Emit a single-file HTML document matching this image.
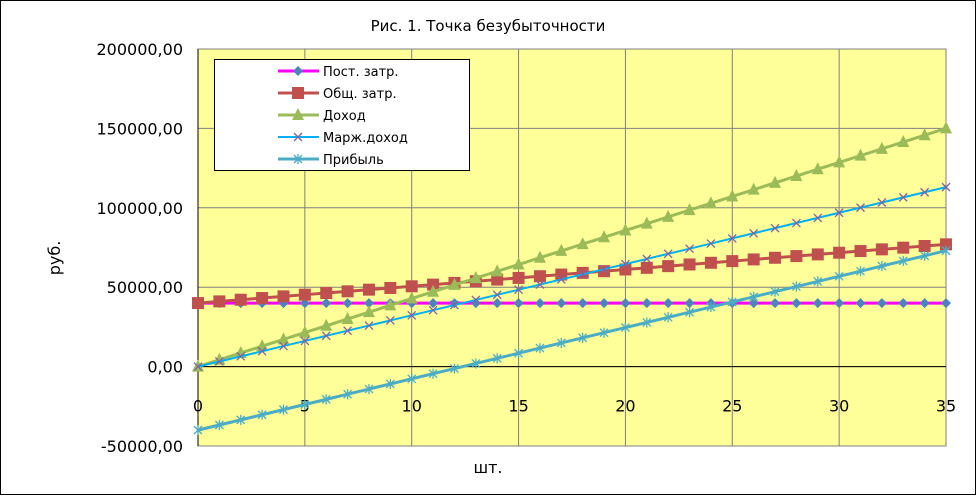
<!DOCTYPE html>
<html><head><meta charset="utf-8"><style>
body{margin:0;background:#fff}
svg text{font-family:"DejaVu Sans","Liberation Sans",sans-serif}
</style></head><body>
<svg id="c" width="976" height="495" xmlns="http://www.w3.org/2000/svg">
<rect x="0.5" y="0.5" width="975" height="494" fill="#fff" stroke="#000"/>
<text x="488" y="31" font-size="15" text-anchor="middle">Рис. 1. Точка безубыточности</text>
<rect x="198" y="49" width="748" height="397" fill="#FFFF99"/>
<g id="grid"></g><g id="axes"></g><g id="series"></g>
<text transform="translate(60,258) rotate(-90)" font-size="16" text-anchor="middle">руб.</text>
<text x="488" y="473" font-size="16" text-anchor="middle">шт.</text>
<g>
<rect x="214.5" y="59.5" width="255" height="111" fill="#fff" stroke="#000"/>
<g id="legend"></g>
</g>
</svg>
<script>
const xs=[0,1,2,3,4,5,6,7,8,9,10,11,12,13,14,15,16,17,18,19,20,21,22,23,24,25,26,27,28,29,30,31,32,33,34,35];
const fixedCost=xs.map(()=>40000);
const totalCost=[40000,41057,42114,43171,44228,45285,46342,47399,48456,49513,50570,51627,52684,53741,54798,55855,56912,57969,59026,60083,61140,62197,63254,64311,65368,66425,67482,68539,69596,70653,71710,72767,73824,74881,75938,76995];
const revenue=[0,4286,8571,12857,17143,21429,25714,30000,34286,38571,42857,47143,51429,55714,60000,64286,68571,72857,77143,81429,85714,90000,94286,98571,102857,107143,111429,115714,120000,124286,128571,132857,137143,141429,145714,150000];
const margin=[0,3229,6458,9687,12916,16145,19374,22603,25832,29061,32290,35519,38748,41977,45206,48435,51664,54893,58122,61351,64580,67809,71038,74267,77496,80725,83954,87183,90412,93641,96870,100099,103328,106557,109786,113015];
const profit=[-40000,-36771,-33542,-30313,-27084,-23855,-20626,-17397,-14168,-10939,-7710,-4481,-1252,1977,5206,8435,11664,14893,18122,21351,24580,27809,31038,34267,37496,40725,43954,47183,50412,53641,56870,60099,63328,66557,69786,73015];
const yTicks=[-50000,0,50000,100000,150000,200000];
const yLabels=["-50000,00","0,00","50000,00","100000,00","150000,00","200000,00"];
const xTicks=[0,5,10,15,20,25,30,35];
const names=["Пост. затр.","Общ. затр.","Доход","Марж.доход","Прибыль"];
const X=v=>198+v*(748/35), Y=v=>446-(v+50000)*(397/250000);
const NS="http://www.w3.org/2000/svg";
function mk(t,a,p){const e=document.createElementNS(NS,t);for(const k in a)e.setAttribute(k,a[k]);p.appendChild(e);return e;}
const grid=document.getElementById('grid'),axes=document.getElementById('axes'),ser=document.getElementById('series'),leg=document.getElementById('legend');
yTicks.forEach((v,i)=>{
 const l=mk('line',{x1:198,x2:946,y1:Y(v),y2:Y(v),stroke:'#808080'},grid);
 
 
 const t=mk('text',{x:183,y:Y(v)+6,'font-size':16,'text-anchor':'end'},axes);t.textContent=yLabels[i];
 
 
});
xTicks.forEach(v=>{
 const l=mk('line',{x1:X(v),x2:X(v),y1:49,y2:446,stroke:'#808080'},grid);
 
 
 const t=mk('text',{x:X(v),y:Y(0)+45,'font-size':16,'text-anchor':'middle'},axes);t.textContent=v;
 
 
});
mk('rect',{x:198,y:49,width:748,height:397,fill:'none',stroke:'#808080'},grid);
mk('line',{x1:198,x2:198,y1:49,y2:446,stroke:'#000'},axes);
mk('line',{x1:198,x2:946,y1:Y(0),y2:Y(0),stroke:'#000'},axes);
function marker(g,type,x,y,c){
 if(type==='d')mk('path',{d:`M${x} ${y-5}L${x+5} ${y}L${x} ${y+5}L${x-5} ${y}Z`,fill:c},g);
 else if(type==='s')mk('rect',{x:x-6,y:y-6,width:12,height:12,fill:c},g);
 else if(type==='t')mk('path',{d:`M${x} ${y-7}L${x+6} ${y+5}L${x-6} ${y+5}Z`,fill:c},g);
 else if(type==='x')mk('path',{d:`M${x-4} ${y-4}L${x+4} ${y+4}M${x+4} ${y-4}L${x-4} ${y+4}`,stroke:c,'stroke-width':1.3},g);
 else mk('path',{d:`M${x-4} ${y-4}L${x+4} ${y+4}M${x+4} ${y-4}L${x-4} ${y+4}M${x} ${y-5}L${x} ${y+5}`,stroke:c,'stroke-width':1.3},g);
}
const S=[[fixedCost,'#FF00FF',3,'d','#4F81BD','series-fixed-cost'],[totalCost,'#C0504D',3,'s','#C0504D','series-total-cost'],[revenue,'#9BBB59',3,'t','#9BBB59','series-revenue'],[margin,'#00B0F0',2,'x','#8064A2','series-marginal-income'],[profit,'#4BACC6',3,'*','#4BACC6','series-profit']];
S.forEach((s,i)=>{
 const g=mk('g',{},ser);
 
 
 mk('polyline',{points:xs.map((x,j)=>X(x)+','+Y(s[0][j])).join(' '),fill:'none',stroke:s[1],'stroke-width':s[2]},g);
 xs.forEach((x,j)=>marker(g,s[3],X(x),Y(s[0][j]),s[4]));
 const ly=71+i*22;
 const lg=mk('g',{},leg);
 
 
 mk('line',{x1:278,x2:319,y1:ly,y2:ly,stroke:s[1],'stroke-width':s[2]},lg);
 marker(lg,s[3],298,ly,s[4]);
 const t=mk('text',{x:323,y:ly+5,'font-size':13},lg);t.textContent=names[i];
});
</script>
</body></html>
